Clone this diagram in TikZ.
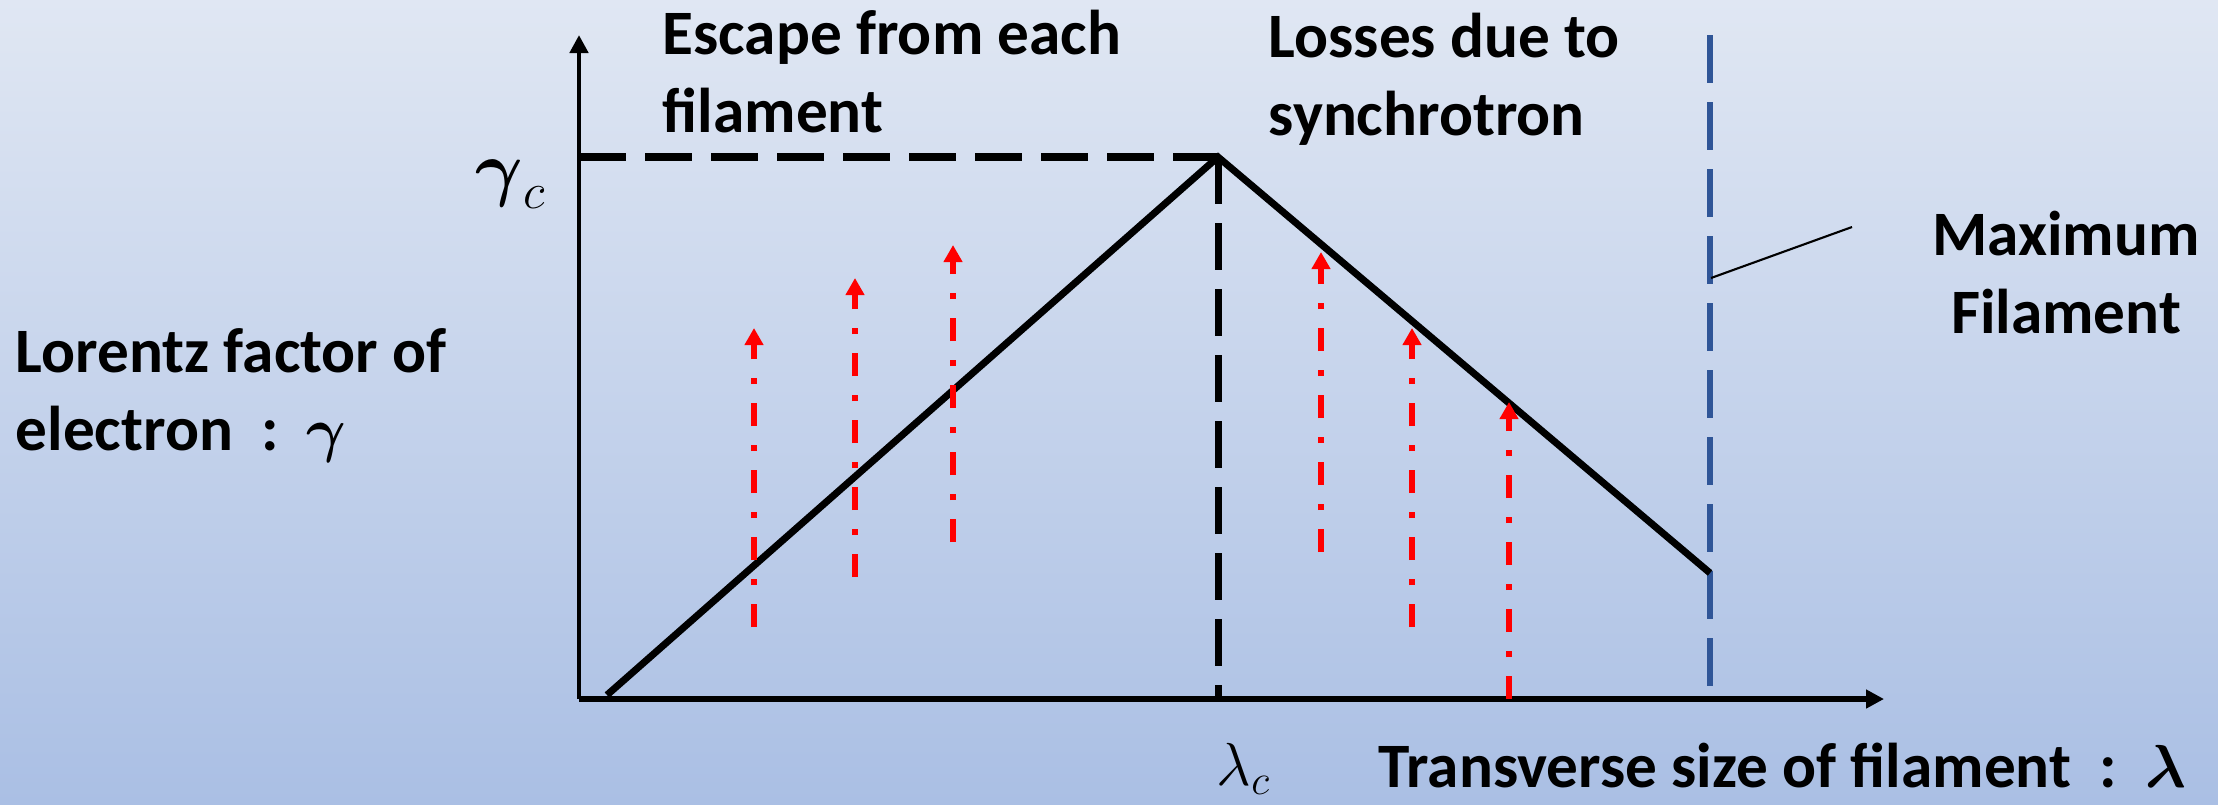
\documentclass[tikz,border=0pt]{standalone}
\usepackage{amsmath}
\usepackage{fontspec}
\setmainfont{Carlito}
\usetikzlibrary{arrows.meta,positioning}
\definecolor{bgtop}{RGB}{224,231,243}
\definecolor{bgbot}{RGB}{170,191,228}
\definecolor{limblue}{RGB}{47,85,151}
\newcommand{\gap}{\hspace{8pt}}

\begin{document}
\begin{tikzpicture}[
    font=\fontsize{18}{22}\selectfont\bfseries,
    axis/.style={black, line width=1.3pt, -{Triangle[length=0.18cm, width=0.18cm]}},
    curve/.style={black, line width=2pt, line join=miter},
    guide/.style={black, line width=2pt, dash pattern=on 0.47cm off 0.19cm},
    limit/.style={limblue, line width=1.6pt, dash pattern=on 0.48cm off 0.19cm},
    flow/.style={red, line width=1.9pt,
                 dash pattern=on 0.23cm off 0.19cm on 0.06cm off 0.19cm,
                 -{Triangle[length=0.17cm, width=0.18cm]}},
    lbl/.style={inner sep=0pt, align=left},
    sym/.style={inner sep=0pt, font=\fontsize{20}{24}\selectfont},
  ]

  %% Background
  \useasboundingbox (0,0) rectangle (22.18,8.04);
  \fill[top color=bgtop, bottom color=bgbot] (0,0) rectangle (22.18,8.04);

  %% Key points
  \coordinate (O) at (5.79,1.05);
  \coordinate (ytip) at (5.79,7.69);
  \coordinate (xtip) at (18.84,1.05);
  \coordinate (start) at (6.07,1.09);
  \coordinate (peak) at (12.18,6.47);
  \coordinate (stop) at (17.10,2.31);
  \coordinate (maxtop) at (17.10,7.69);
  \coordinate (maxbot) at (17.10,1.05);
  \coordinate (tick) at (17.11,5.26);
  \coordinate (tickend) at (18.52,5.77);

  %% Axes
  \draw[axis] (O) -- (ytip);
  \draw[axis, line width=1.8pt] (O) -- (xtip);

  %% Guides to the peak
  \draw[guide] (O |- peak) -- (peak);
  \draw[guide] (peak) -- (peak |- O);

  %% Maximum filament size
  \draw[limit] (maxtop) -- (maxbot);
  \draw[black, line width=0.6pt] (tick) -- (tickend);

  %% Lorentz factor curve
  \draw[curve] (start) -- (peak) -- (stop);

  %% Escape and loss arrows
  \foreach \x/\ya/\yb in {7.54/1.77/4.76, 8.55/2.27/5.26, 9.53/2.62/5.59,
                          13.21/2.52/5.52, 14.12/1.77/4.76, 15.09/1.05/4.02}{
    \draw[flow] (\x,\ya) -- (\x,\yb);
  }

  %% Labels
  \node[lbl, anchor=base west] (escape) at (6.62,6.72) {Escape from each\\filament};
  \node[lbl, anchor=base west] (losses) at (12.68,6.69) {Losses due to\\synchrotron};
  \node[lbl, anchor=base west] (lorentz) at (0.15,3.54)
       {Lorentz factor of\\electron\gap:\gap$\boldsymbol{\gamma}$};
  \node[lbl, align=center, anchor=base] (maxfil) at (20.66,4.71) {Maximum\\Filament};
  \node[lbl, anchor=base west] (transverse) at (13.78,0.17)
       {Transverse size of filament\gap:\gap$\boldsymbol{\lambda}$};
  \node[sym, anchor=base east] (gamc) at (5.47,6.12) {$\boldsymbol{\gamma}_c$};
  \node[sym, font=\fontsize{18}{22}\selectfont, anchor=base west] (lamc) at (12.16,0.19) {$\lambda_c$};

\end{tikzpicture}
\end{document}
